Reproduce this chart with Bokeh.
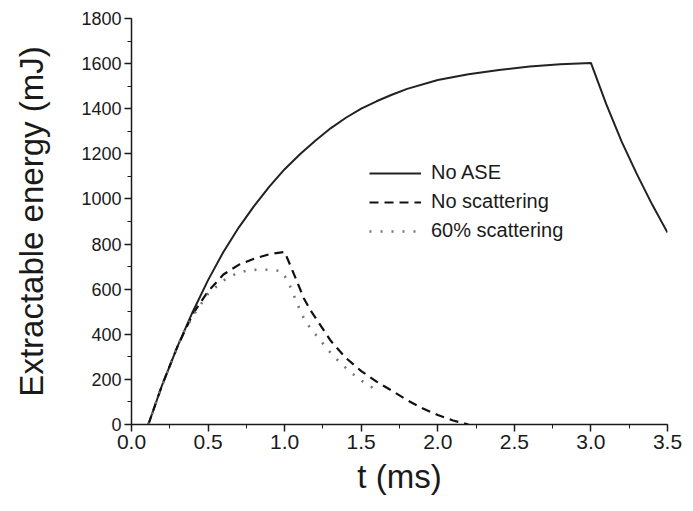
from bokeh.plotting import figure
from bokeh.models import Range1d, SingleIntervalTicker, Legend, LegendItem
from bokeh.embed import file_html
from bokeh.resources import INLINE

# --- data ---
t_no_ase = [0.11, 0.2, 0.3, 0.4, 0.5, 0.6, 0.7, 0.8, 0.9, 1.0, 1.1, 1.2, 1.3, 1.4, 1.5,
            1.6, 1.7, 1.8, 2.0, 2.2, 2.4, 2.6, 2.8, 3.0, 3.1, 3.2, 3.3, 3.4, 3.5]
e_no_ase = [0, 175, 345, 500, 640, 765, 873, 968, 1055, 1132, 1198, 1258, 1313, 1360, 1400,
            1433, 1462, 1488, 1527, 1553, 1572, 1587, 1597, 1603, 1420, 1255, 1110, 975, 851]

t_no_scat = [0.11, 0.2, 0.3, 0.4, 0.5, 0.6, 0.7, 0.8, 0.9, 1.0, 1.06, 1.125, 1.17, 1.3,
             1.4, 1.5, 1.6, 1.7, 1.8, 1.9, 2.0, 2.1, 2.2]
e_no_scat = [0, 175, 345, 490, 590, 665, 708, 735, 755, 765, 668, 560, 505, 372,
             295, 237, 190, 150, 108, 72, 42, 18, 0]

t_scat60 = [0.11, 0.2, 0.3, 0.34, 0.4, 0.5, 0.6, 0.68, 0.755, 0.83, 0.9, 0.98, 1.017, 1.05,
            1.08, 1.12, 1.165, 1.225, 1.29, 1.36, 1.43, 1.507, 1.587]
e_scat60 = [0, 175, 345, 410, 480, 580, 638, 668, 683, 687, 686, 680, 641, 591,
            538, 479, 429, 380, 325, 275, 232, 192, 157]

labels = ["No ASE", "No scattering", "60% scattering"]

FONT = "Liberation Sans"
INK = "#1a1a1a"

p = figure(width=685, height=503, output_backend="svg", toolbar_location=None,
           x_range=Range1d(0, 3.5), y_range=Range1d(0, 1800),
           min_border_left=131, min_border_right=18, min_border_top=18, min_border_bottom=79)
p.outline_line_color = None
p.xgrid.visible = False
p.ygrid.visible = False
p.background_fill_color = "white"

r1 = p.line(t_no_ase, e_no_ase, line_color="#222222", line_width=2)
r2 = p.line(t_no_scat, e_no_scat, line_color="#111111", line_width=2.2, line_dash="9 6")
r3 = p.line(t_scat60, e_scat60, line_color="#777777", line_width=2.6, line_dash="2 9")

for ax in (p.xaxis[0], p.yaxis[0]):
    ax.axis_line_color = INK
    ax.axis_line_width = 1.5
    ax.major_tick_line_color = INK
    ax.minor_tick_line_color = INK
    ax.major_tick_line_width = 1.5
    ax.major_label_text_font = FONT
    ax.major_label_text_color = INK
    ax.axis_label_text_font = FONT
    ax.axis_label_text_color = INK
    ax.axis_label_text_font_style = "normal"
    ax.major_tick_in = 0
    ax.minor_tick_in = 0
    ax.major_tick_out = 7
    ax.minor_tick_out = 4

p.xaxis[0].ticker = SingleIntervalTicker(interval=0.5, num_minor_ticks=2)
p.yaxis[0].ticker = SingleIntervalTicker(interval=200, num_minor_ticks=2)
p.xaxis[0].major_label_overrides = {0: "0.0", 1: "1.0", 2: "2.0", 3: "3.0"}
p.xaxis[0].major_label_text_font_size = "21px"
p.yaxis[0].major_label_text_font_size = "18px"
p.xaxis[0].major_label_standoff = 3
p.yaxis[0].major_label_standoff = 3
p.xaxis[0].axis_label = "t (ms)"
p.yaxis[0].axis_label = "Extractable energy (mJ)"
p.xaxis[0].axis_label_text_font_size = "33px"
p.yaxis[0].axis_label_text_font_size = "33px"
p.xaxis[0].axis_label_standoff = 6
p.yaxis[0].axis_label_standoff = 28

legend = Legend(items=[LegendItem(label=labels[0], renderers=[r1]),
                       LegendItem(label=labels[1], renderers=[r2]),
                       LegendItem(label=labels[2], renderers=[r3])],
                location=(238, 182), orientation="vertical")
legend.border_line_color = None
legend.background_fill_alpha = 0
legend.padding = 0
legend.margin = 0
legend.spacing = 6
legend.glyph_width = 52
legend.glyph_height = 22
legend.label_height = 22
legend.label_standoff = 10
legend.label_text_font = FONT
legend.label_text_font_size = "20px"
legend.label_text_color = INK
p.add_layout(legend, "center")

open("out.html", "w").write(file_html(p, INLINE))
